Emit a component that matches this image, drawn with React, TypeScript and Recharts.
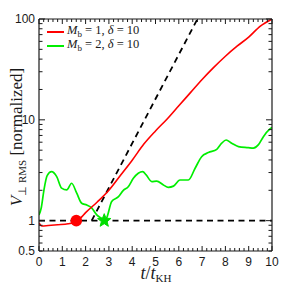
import React from 'react';
import { ComposedChart, Line, Scatter, XAxis, YAxis, Legend } from 'recharts';

// Red: M_b = 1, delta = 10
const redT = [0, 0.12, 0.4, 0.8, 1.25, 1.6, 1.8, 2.0, 2.5, 3.0, 3.5, 4.0, 4.5, 5.0, 5.5, 6.0, 6.5, 7.0, 7.5, 8.0, 8.5, 9.0, 9.5, 10];
const redV = [0.95, 0.885, 0.895, 0.91, 0.93, 0.97, 1.07, 1.2, 1.53, 2.0, 2.82, 3.98, 5.75, 7.76, 10.2, 13.8, 18.6, 25.1, 33.1, 42.7, 53.7, 66.1, 85.1, 100];

// Green: M_b = 2, delta = 10
const greenT = [0, 0.1, 0.21, 0.35, 0.54, 0.76, 0.97, 1.19, 1.4, 1.62, 1.83, 2.05, 2.26, 2.48, 2.69, 2.8, 2.9, 3.12, 3.4, 3.62, 3.83, 4.05, 4.26, 4.45, 4.6, 4.84, 5.05, 5.34, 5.55, 5.77, 6.05, 6.41, 6.7, 6.98, 7.27, 7.63, 7.84, 8.03, 8.27, 8.56, 8.98, 9.2, 9.41, 9.63, 9.9, 10];
const greenV = [1.14, 1.35, 2.0, 2.8, 3.06, 2.73, 2.1, 2.02, 2.35, 1.87, 1.49, 1.43, 1.34, 1.14, 1.05, 1.0, 1.06, 1.55, 1.72, 2.0, 2.17, 2.63, 2.95, 3.06, 2.84, 2.44, 2.47, 2.26, 2.14, 2.2, 2.53, 2.53, 3.31, 4.31, 4.73, 5.1, 5.86, 6.31, 5.86, 5.42, 5.3, 5.24, 5.64, 6.81, 8.07, 8.4];

// Dashed guide lines
const slopeT = [2.26, 6.8];
const slopeV = [1, 100];
const flatT = [0, 10];
const flatV = [1, 1];

// Markers
const redMarker = [{ t: 1.6, v: 1 }];
const greenMarker = [{ t: 2.8, v: 1 }];

// Ticks
const xMajor = [0, 1, 2, 3, 4, 5, 6, 7, 8, 9, 10];
const xMinorStep = 0.2;
const yTicks = [0.5, 0.6, 0.7, 0.8, 0.9, 1, 2, 3, 4, 5, 6, 7, 8, 9, 10, 20, 30, 40, 50, 60, 70, 80, 90, 100];
const yLabeled = [0.5, 1, 10, 100];
const yMajor = [1, 10, 100];

const xTicks: number[] = [];
for (let i = 0; i <= 50; i++) xTicks.push(Math.round(i * xMinorStep * 10) / 10);

const zip = (ts: number[], vs: number[]) => ts.map((t, i) => ({ t, v: vs[i] }));
const redData = zip(redT, redV);
const greenData = zip(greenT, greenV);
const slopeData = zip(slopeT, slopeV);
const flatData = zip(flatT, flatV);

const AX = '#1a1a1a';
const TICKFONT = 'Liberation Sans, Arial, sans-serif';
const SERIF = 'Liberation Serif, Times New Roman, serif';

const isMajorX = (v: number) => xMajor.some((m) => Math.abs(m - v) < 1e-6);

const BottomTick = (p: any) => {
  const { x, y, payload } = p;
  const major = isMajorX(payload.value);
  return (
    <g>
      <line x1={x} x2={x} y1={y} y2={y - (major ? 5 : 3)} stroke={AX} strokeWidth={1} />
      {major && (
        <text x={x} y={y + 15} textAnchor="middle" fontFamily={TICKFONT} fontSize={12} fill={AX}>
          {payload.value}
        </text>
      )}
    </g>
  );
};
const TopTick = (p: any) => {
  const { x, y, payload } = p;
  const major = isMajorX(payload.value);
  return <line x1={x} x2={x} y1={y} y2={y + (major ? 5 : 3)} stroke={AX} strokeWidth={1} />;
};
const LeftTick = (p: any) => {
  const { x, y, payload } = p;
  const v = payload.value;
  const major = yMajor.includes(v);
  return (
    <g>
      <line x1={x} x2={x + (major ? 6 : 3.5)} y1={y} y2={y} stroke={AX} strokeWidth={1} />
      {yLabeled.includes(v) && (
        <text x={x - 4} y={y + 4} textAnchor="end" fontFamily={TICKFONT} fontSize={12} fill={AX}>
          {v}
        </text>
      )}
    </g>
  );
};
const RightTick = (p: any) => {
  const { x, y, payload } = p;
  const major = yMajor.includes(payload.value);
  return <line x1={x} x2={x - (major ? 6 : 3.5)} y1={y} y2={y} stroke={AX} strokeWidth={1} />;
};

const YLab = () => (
  <text transform="translate(22,137) rotate(-90)" textAnchor="middle" fontFamily={SERIF} fontSize={17} fill={AX}>
    <tspan fontStyle="italic">V</tspan>
    <tspan fontSize={11} dy={4}>⊥ RMS</tspan>
    <tspan dy={-4}> [normalized]</tspan>
  </text>
);
const XLab = () => (
  <text x={156} y={279} textAnchor="middle" fontFamily={SERIF} fontSize={18} fill={AX}>
    <tspan fontStyle="italic">t</tspan>
    <tspan>/</tspan>
    <tspan fontStyle="italic">t</tspan>
    <tspan fontSize={11} dy={3}>KH</tspan>
  </text>
);

const legendItems = [
  { color: '#ff0000', n: '1' },
  { color: '#00ee00', n: '2' },
];

const LegendBox = () => (
  <div style={{ fontFamily: SERIF, fontSize: 12.5, color: AX, lineHeight: '14px' }}>
    {legendItems.map((it) => (
      <div key={it.n} style={{ display: 'flex', alignItems: 'center', height: 14 }}>
        <svg width={19} height={14} style={{ marginRight: 2 }}>
          <line x1={1} x2={18} y1={7} y2={7} stroke={it.color} strokeWidth={2} />
        </svg>
        <span>
          <i>M</i>
          <span style={{ fontSize: 9, verticalAlign: '-3px' }}>b</span> = {it.n}, <i>δ</i> = 10
        </span>
      </div>
    ))}
  </div>
);

const Dot = (p: any) => <circle cx={p.cx} cy={p.cy} r={5.8} fill="#ff0000" />;
const Star = (p: any) => {
  const { cx, cy } = p;
  const pts: string[] = [];
  for (let i = 0; i < 10; i++) {
    const r = i % 2 === 0 ? 7 : 3;
    const a = -Math.PI / 2 + (i * Math.PI) / 5;
    pts.push(`${cx + r * Math.cos(a)},${cy + r * Math.sin(a)}`);
  }
  return <polygon points={pts.join(' ')} fill="#00dd00" stroke="#00dd00" strokeWidth={1} />;
};

export default function App() {
  return (
    <div style={{ position: 'absolute', left: 0, top: 0, width: 281, height: 285, background: '#fff' }}>
      <ComposedChart width={281} height={285} margin={{ top: 18, right: 8, left: 38, bottom: 33 }}>
        <XAxis
          xAxisId="b"
          type="number"
          dataKey="t"
          domain={[0, 10]}
          ticks={xTicks}
          interval={0}
          tickSize={0}
          tickMargin={0}
          height={1}
          tick={<BottomTick />}
          axisLine={{ stroke: AX, strokeWidth: 1.2 }}
          tickLine={false}
          allowDataOverflow
          label={<XLab />}
        />
        <XAxis
          xAxisId="t"
          orientation="top"
          type="number"
          dataKey="t"
          domain={[0, 10]}
          ticks={xTicks}
          interval={0}
          tickSize={0}
          tickMargin={0}
          height={1}
          tick={<TopTick />}
          axisLine={{ stroke: AX, strokeWidth: 1.2 }}
          tickLine={false}
          allowDataOverflow
        />
        <YAxis
          yAxisId="l"
          scale="log"
          domain={[0.5, 100]}
          ticks={yTicks}
          interval={0}
          tickSize={0}
          tickMargin={0}
          width={1}
          tick={<LeftTick />}
          axisLine={{ stroke: AX, strokeWidth: 1.2 }}
          tickLine={false}
          allowDataOverflow
          label={<YLab />}
        />
        <YAxis
          yAxisId="r"
          orientation="right"
          scale="log"
          domain={[0.5, 100]}
          ticks={yTicks}
          interval={0}
          tickSize={0}
          tickMargin={0}
          width={1}
          tick={<RightTick />}
          axisLine={{ stroke: AX, strokeWidth: 1.2 }}
          tickLine={false}
          allowDataOverflow
        />
        <Legend
          layout="vertical"
          align="center"
          verticalAlign="middle"
          content={<LegendBox />}
          wrapperStyle={{ position: 'absolute', left: 46, top: 25, width: 'auto' }}
        />
        <Line xAxisId="t" yAxisId="r" data={flatData} dataKey="v" stroke="#000" strokeWidth={1.8} strokeDasharray="6 4.5" dot={false} isAnimationActive={false} legendType="none" />
        <Line xAxisId="b" yAxisId="l" data={slopeData} dataKey="v" stroke="#000" strokeWidth={1.8} strokeDasharray="6 4.5" dot={false} isAnimationActive={false} legendType="none" />
        <Line xAxisId="b" yAxisId="l" data={greenData} dataKey="v" type="monotone" stroke="#00ee00" strokeWidth={1.7} dot={false} isAnimationActive={false} />
        <Line xAxisId="b" yAxisId="l" data={redData} dataKey="v" type="monotone" stroke="#ff0000" strokeWidth={1.6} dot={false} isAnimationActive={false} />
        <Scatter xAxisId="b" yAxisId="l" data={redMarker} dataKey="v" shape={<Dot />} isAnimationActive={false} legendType="none" />
        <Scatter xAxisId="b" yAxisId="l" data={greenMarker} dataKey="v" shape={<Star />} isAnimationActive={false} legendType="none" />
      </ComposedChart>
    </div>
  );
}
